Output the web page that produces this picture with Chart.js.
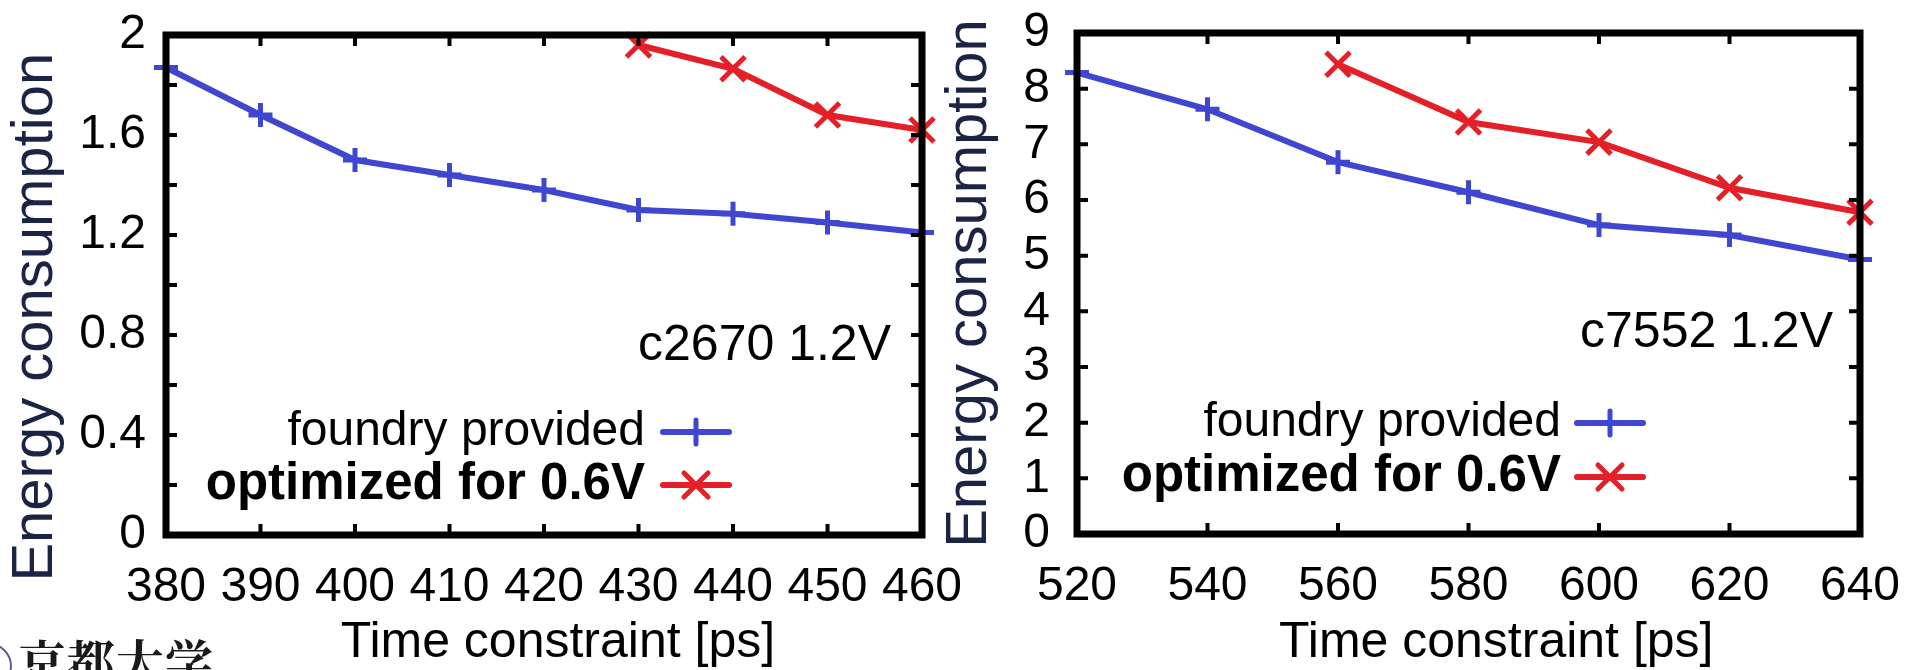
<!DOCTYPE html>
<html lang="en">
<head>
<meta charset="UTF-8"/>
<title>Energy consumption vs time constraint</title>
<script src="https://cdn.jsdelivr.net/npm/chart.js"></script>
<style>
  html, body { margin: 0; padding: 0; background: #fff; }
  body { width: 1931px; height: 670px; position: relative; overflow: hidden; }
  .panel { position: absolute; top: 0; }
  #leftPanel { left: 0; }
  #rightPanel { left: 930px; }
  .logo { position: absolute; left: 18px; top: 636px; font: 700 48px 'Noto Serif CJK JP', 'Noto Sans CJK JP', serif; line-height: 1; letter-spacing: 1px; color: #1a1a1a; white-space: nowrap; }
  .emblem { position: absolute; left: -34px; top: 643px; width: 42px; height: 42px; border: 2px solid #5a6080; border-radius: 50%; }
</style>
</head>
<body>

<div class="panel" id="leftPanel"><canvas id="c2670" width="970" height="670"></canvas></div>
<div class="panel" id="rightPanel"><canvas id="c7552" width="1001" height="670"></canvas></div>
<div class="emblem"></div>
<div class="logo">京都大学</div>

<script>
// c2670 panel
const leftTimes = [380, 390, 400, 410, 420, 430, 440, 450, 460];
const leftFoundry = [1.87, 1.68, 1.50, 1.44, 1.38, 1.30, 1.285, 1.25, 1.21];
const leftOptTimes = [430, 440, 450, 460];
const leftOptimized = [1.96, 1.865, 1.68, 1.62];

// c7552 panel
const rightTimes = [520, 540, 560, 580, 600, 620, 640];
const rightFoundry = [8.29, 7.63, 6.68, 6.14, 5.55, 5.37, 4.93];
const rightOptTimes = [560, 580, 600, 620, 640];
const rightOptimized = [8.44, 7.40, 7.04, 6.22, 5.78];

const seriesLabels = ['foundry provided', 'optimized for 0.6V'];
const BLUE = '#3f46cf';
const RED = '#e41f28';
const FONT = "'Liberation Sans', Arial, sans-serif";

function pts(xs, ys) {
  return xs.map((x, i) => ({ x: x, y: ys[i] }));
}

function drawMarker(ctx, style, cx, cy, r) {
  ctx.beginPath();
  if (style === 'cross') {
    ctx.moveTo(cx - r, cy); ctx.lineTo(cx + r, cy);
    ctx.moveTo(cx, cy - r); ctx.lineTo(cx, cy + r);
  } else {
    const d = r * Math.SQRT1_2;
    ctx.moveTo(cx - d, cy - d); ctx.lineTo(cx + d, cy + d);
    ctx.moveTo(cx - d, cy + d); ctx.lineTo(cx + d, cy - d);
  }
  ctx.stroke();
}

// box around the plot with inward ticks on all four sides (gnuplot look)
const gnuFrame = {
  id: 'gnuFrame',
  afterDatasetsDraw(chart) {
    const { ctx, chartArea: a, scales: { x, y } } = chart;
    ctx.save();
    ctx.strokeStyle = '#000';
    ctx.lineWidth = 4;
    ctx.beginPath();
    x.ticks.forEach(t => {
      const px = x.getPixelForValue(t.value);
      ctx.moveTo(px, a.bottom); ctx.lineTo(px, a.bottom - 11);
      ctx.moveTo(px, a.top); ctx.lineTo(px, a.top + 11);
    });
    y.ticks.forEach(t => {
      const py = y.getPixelForValue(t.value);
      ctx.moveTo(a.left, py); ctx.lineTo(a.left + 11, py);
      ctx.moveTo(a.right, py); ctx.lineTo(a.right - 11, py);
    });
    ctx.stroke();
    ctx.lineWidth = 7;
    ctx.strokeRect(a.left, a.top, a.right - a.left, a.bottom - a.top);
    ctx.restore();
  }
};

// key inside the plot: text right-aligned, then a line sample with marker
const gnuKey = {
  id: 'gnuKey',
  afterDraw(chart, args, opts) {
    const { ctx, chartArea: a } = chart;
    ctx.save();
    ctx.fillStyle = '#000';
    ctx.textAlign = 'right';
    ctx.textBaseline = 'middle';
    ctx.font = '50px ' + FONT;
    ctx.fillText(opts.caption, a.right - opts.captionRight, a.top + opts.captionY);

    chart.data.datasets.forEach((ds, i) => {
      const yy = a.top + opts.row1 + i * opts.rowGap;
      const tx = a.left + opts.textRight;
      ctx.font = opts.fonts[i] + ' ' + FONT;
      ctx.fillStyle = '#000';
      ctx.fillText(ds.label, tx, yy);
      const x0 = tx + opts.gap, x1 = x0 + opts.sampleLen;
      ctx.strokeStyle = ds.borderColor;
      ctx.lineCap = 'round';
      ctx.lineWidth = ds.borderWidth;
      ctx.beginPath(); ctx.moveTo(x0, yy); ctx.lineTo(x1, yy); ctx.stroke();
      ctx.lineWidth = ds.pointBorderWidth;
      drawMarker(ctx, ds.pointStyle, (x0 + x1) / 2, yy, ds.pointRadius);
    });
    ctx.restore();
  }
};

function series(label, data, color, style, radius) {
  return {
    label: label,
    data: data,
    borderColor: color,
    backgroundColor: color,
    borderWidth: 6,
    pointStyle: style,
    pointRadius: radius,
    pointHoverRadius: radius,
    pointBorderWidth: 5,
    tension: 0,
    fill: false,
    clip: false
  };
}

function makeChart(id, cfg) {
  return new Chart(document.getElementById(id), {
    type: 'line',
    data: {
      datasets: [
        series(seriesLabels[0], pts(cfg.xs, cfg.foundry), BLUE, 'cross', 12),
        series(seriesLabels[1], pts(cfg.optXs, cfg.optimized), RED, 'crossRot', 17)
      ]
    },
    options: {
      responsive: false,
      animation: false,
      devicePixelRatio: 1,
      layout: { padding: { top: cfg.top, right: cfg.right, bottom: 0, left: 0 } },
      plugins: {
        legend: { display: false },
        tooltip: { enabled: false },
        gnuKey: cfg.key
      },
      scales: {
        x: {
          type: 'linear',
          min: cfg.xMin, max: cfg.xMax,
          grid: { display: false },
          border: { display: false },
          // fixed axis box; labels may spill into the layout padding
          afterFit: s => { s.height = cfg.xHeight; s.paddingLeft = 0; s.paddingRight = 0; },
          ticks: { stepSize: cfg.xStep, autoSkip: false, maxRotation: 0, padding: 16, color: '#000', font: { family: FONT, size: 48 } },
          title: {
            display: true, text: cfg.xTitle, color: '#000',
            font: { family: FONT, size: 50, lineHeight: 1 },
            padding: { top: 0, bottom: 2 }
          }
        },
        y: {
          min: 0, max: cfg.yMax,
          grid: { display: false },
          border: { display: false },
          afterFit: s => { s.width = cfg.yWidth; s.paddingTop = 0; s.paddingBottom = 0; },
          ticks: {
            stepSize: cfg.yStep, autoSkip: false, padding: cfg.yPad, color: '#000',
            font: { family: FONT, size: 48 },
            callback: cfg.yLabel
          },
          title: {
            display: true, text: cfg.yTitle, color: '#1b2444',
            font: { family: FONT, size: 58, lineHeight: 1.2 },
            padding: { top: cfg.yTitlePad, bottom: 0 }
          }
        }
      }
    },
    plugins: [gnuFrame, gnuKey]
  });
}

// the spaces nudge the axis titles off-centre the way the original sits
makeChart('c2670', {
  xs: leftTimes, foundry: leftFoundry, optXs: leftOptTimes, optimized: leftOptimized,
  xMin: 380, xMax: 460, xStep: 10, yMax: 2, yStep: 0.2,
  yLabel: v => (Math.abs(v / 0.4 - Math.round(v / 0.4)) < 1e-6 ? String(+v.toFixed(1)) : ''),
  top: 35, right: 48, xHeight: 135, yWidth: 166, yPad: 12, yTitlePad: 1,
  xTitle: '  Time constraint [ps]', yTitle: 'Energy consumption    ',
  key: { caption: 'c2670 1.2V', captionRight: 31, captionY: 311,
         textRight: 479, gap: 18, sampleLen: 66, row1: 397, rowGap: 53,
         fonts: ['48px', 'bold 51px'] }
});

makeChart('c7552', {
  xs: rightTimes, foundry: rightFoundry, optXs: rightOptTimes, optimized: rightOptimized,
  xMin: 520, xMax: 640, xStep: 20, yMax: 9, yStep: 1,
  yLabel: v => String(v),
  top: 33, right: 71, xHeight: 136, yWidth: 147, yPad: 19, yTitlePad: 5,
  xTitle: '    Time constraint [ps]', yTitle: 'Energy consumption',
  key: { caption: 'c7552 1.2V', captionRight: 27, captionY: 300,
         textRight: 484, gap: 16, sampleLen: 66, row1: 390, rowGap: 54,
         fonts: ['48px', 'bold 51px'] }
});
</script>
</body>
</html>
